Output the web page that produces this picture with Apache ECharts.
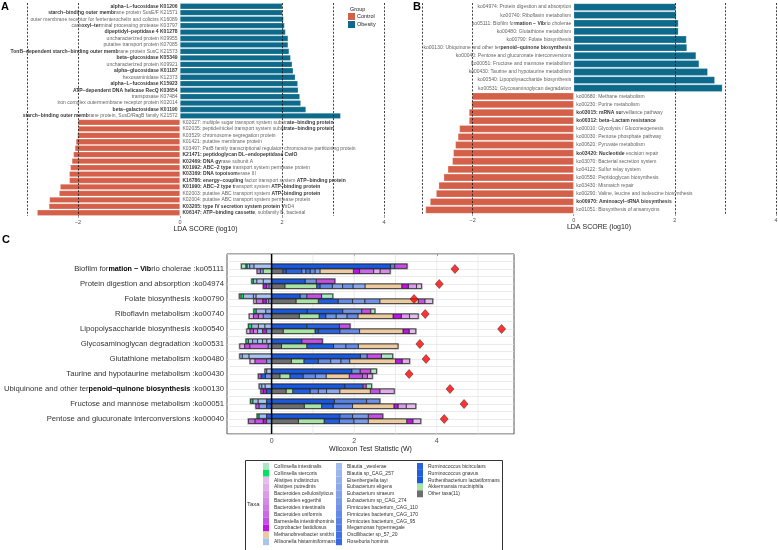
<!DOCTYPE html>
<html><head><meta charset="utf-8">
<script src="https://cdn.jsdelivr.net/npm/echarts@6/dist/echarts.min.js"></script>
<style>html,body{margin:0;padding:0;background:#fff}#c{width:778px;height:550px}</style>
</head><body><div id="c"></div>
<script>
// ---------- Panel A data (LDA, KO genes) ----------
const aObesityLabels = [
 "**alpha−L−fucosidase K01206**",
 "**starch−binding outer membr**ane protein SusE/F K21571",
 "outer membrane receptor for ferrienterochelin and colicins K16089",
 "carb**oxyl−ter**minal processing protease K03797",
 "**dipeptidyl−peptidase 4 K01278**",
 "uncharacterized protein K09955",
 "putative transport protein K07085",
 "**TonB−dependent starch−binding outer memb**rane protein SusC K21573",
 "**beta−glucosidase K05349**",
 "uncharacterized protein K09921",
 "**alpha−glucosidase K01187**",
 "hexosaminidase K12373",
 "**alpha−L−fucosidase K15923**",
 "**ATP−dependent DNA helicase RecQ K03654**",
 "transposase K07484",
 "iron complex outermembrane receptor protein K02014",
 "**beta−galactosidase K01190**",
 "**starch−binding outer memb**rane protein, SusD/RagB family K21572"
];
const aObesityScores = [2.01,2.01,2.03,2.05,2.07,2.12,2.12,2.14,2.17,2.20,2.22,2.26,2.31,2.32,2.35,2.37,2.47,3.15];
const aControlLabels = [
 "K02027: multiple sugar transport system substr**ate−binding protein**",
 "K02035: peptide/nickel transport system sub**strate−binding protein**",
 "K03529: chromosome segregation protein",
 "K01421: putative membrane protein",
 "K03497: ParB family transcriptional regulator, chromosome partitioning protein",
 "**K21471: peptidoglycan DL−endopeptidase CwlO**",
 "**K02469: DNA gy**rase subunit A",
 "**K01992: ABC−2 type** transport system permease protein",
 "**K03169: DNA topoisom**erase III",
 "**K16786: energy−coupling** factor transport system **ATP−binding protein**",
 "**K01990: ABC−2 type t**ransport system **ATP−binding protein**",
 "K02003: putative ABC transport system **ATP−binding protein**",
 "K02004: putative ABC transport system permease protein",
 "**K03205: type IV secretion system protein V**irD4",
 "**K06147: ATP−binding cassette**, subfamily B, bacterial"
];
const aControlScores = [-2.00,-2.00,-2.01,-2.04,-2.06,-2.09,-2.12,-2.15,-2.17,-2.17,-2.35,-2.37,-2.56,-2.57,-2.80];

// ---------- Panel B data (LDA, KEGG pathways) ----------
const bObesityLabels = [
 "ko04974: Protein digestion and absorption",
 "ko00740: Riboflavin metabolism",
 "ko05111: Biofilm for**mation − Vib**rio cholerae",
 "ko00480: Glutathione metabolism",
 "ko00790: Folate biosynthesis",
 "ko00130: Ubiquinone and other ter**penoid−quinone biosynthesis**",
 "ko00040: Pentose and glucuronate interconversions",
 "ko00051: Fructose and mannose metabolism",
 "ko00430: Taurine and hypotaurine metabolism",
 "ko00540: Lipopolysaccharide biosynthesis",
 "ko00531: Glycosaminoglycan degradation"
];
const bObesityScores = [2.02,2.03,2.07,2.07,2.23,2.24,2.42,2.48,2.65,2.79,2.94];
const bControlLabels = [
 "ko00680: Methane metabolism",
 "ko00230: Purine metabolism",
 "**ko03015: mRNA su**rveillance pathway",
 "**ko00312: beta−Lactam resistance**",
 "ko00010: Glycolysis / Gluconeogenesis",
 "ko00030: Pentose phosphate pathway",
 "ko00620: Pyruvate metabolism",
 "**ko03420: Nucleotide** excision repair",
 "ko03070: Bacterial secretion system",
 "ko04122: Sulfur relay system",
 "ko00550: Peptidoglycan biosynthesis",
 "ko03430: Mismatch repair",
 "ko00290: Valine, leucine and isoleucine biosynthesis",
 "**ko00970: Aminoacyl−tRNA biosynthesis**",
 "ko01051: Biosynthesis of ansamycins"
];
const bControlScores = [-2.01,-2.02,-2.07,-2.07,-2.26,-2.29,-2.34,-2.38,-2.40,-2.49,-2.57,-2.67,-2.72,-2.84,-2.93];

const ldaTicks = [-2,0,2,4];
const ldaRefLines = [-3,-2,2,3,4];

// ---------- Panel C data (taxa contributions) ----------
const cPathways = [
 "Biofilm for**mation − Vib**rio cholerae :ko05111",
 "Protein digestion and absorption :ko04974",
 "Folate biosynthesis :ko00790",
 "Riboflavin metabolism :ko00740",
 "Lipopolysaccharide biosynthesis :ko00540",
 "Glycosaminoglycan degradation :ko00531",
 "Glutathione metabolism :ko00480",
 "Taurine and hypotaurine metabolism :ko00430",
 "Ubiquinone and other ter**penoid−quinone biosynthesis** :ko00130",
 "Fructose and mannose metabolism :ko00051",
 "Pentose and glucuronate interconversions :ko00040"
];
const cWilcoxon = [4.44,4.06,3.45,3.72,5.57,3.59,3.74,3.33,4.32,4.66,4.18];
const wTicks = [0,2,4];
const wGridLines = [1,2,3,4,5];

const taxaNames = [
 "Collinsella intestinalis","Collinsella stercoris","Alistipes indistinctus","Alistipes putredinis",
 "Bacteroides cellulosilyticus","Bacteroides eggerthii","Bacteroides intestinalis","Bacteroides uniformis",
 "Barnesiella intestinihominis","Coprobacter fastidiosus","Methanobrevibacter smithii","Allisonella histaminiformans",
 "Blautia _wexlerae","Blautia sp_CAG_257","Eisenbergiella tayi","Eubacterium eligens",
 "Eubacterium siraeum","Eubacterium sp_CAG_274","Firmicutes bacterium_CAG_110","Firmicutes bacterium_CAG_170",
 "Firmicutes bacterium_CAG_95","Megamonas hypermegale","Oscillibacter sp_57_20","Roseburia hominis",
 "Ruminococcus bicirculans","Ruminococcus gnavus","Ruthenibacterium lactatiformans","Akkermansia muciniphila",
 "Other taxa(11)"
];
// start value and [taxon index, width] segments, upper bar per pathway
const cUpperStart = [-0.73,-0.48,-0.78,-0.43,-0.56,-0.62,-0.77,-0.16,-0.30,-0.51,-0.35];
const cUpperSegs = [
 [[0,.11],[1,.03],[12,.06],[14,.10],[11,.43],[26,2.88],[20,.10],[8,.30]],
 [[1,.04],[13,.08],[11,.16],[12,.20],[26,.81],[18,.27],[8,.45]],
 [[0,.04],[1,.06],[12,.24],[14,.06],[11,.38],[26,.69],[18,.16],[8,.36],[0,.27]],
 [[1,.06],[12,.23],[15,.14],[26,.86],[24,.86],[18,.46],[8,.22],[0,.10]],
 [[1,.08],[13,.16],[11,.16],[12,.16],[26,.85],[24,.79],[8,.26]],
 [[1,.06],[12,.10],[14,.12],[11,.12],[13,.10],[12,.12],[26,.73],[8,.50]],
 [[14,.06],[12,.16],[11,.55],[26,2.15],[18,.16],[8,.35],[0,.27]],
 [[14,.04],[11,.12],[26,1.94],[18,.20],[8,.26],[0,.14]],
 [[14,.06],[12,.08],[11,.16],[26,1.77],[24,.44],[8,.08],[0,.13]],
 [[1,.06],[12,.12],[11,.21],[25,.12],[26,1.52],[20,.78],[18,.32]],
 [[1,.05],[12,.18],[25,.12],[26,1.65],[20,.31],[17,.38],[8,.35]]
];
// lower bar per pathway
const cLowerStart = [-0.35,-0.20,-0.43,-0.54,-0.60,-0.77,-0.52,-0.32,-0.26,-0.38,-0.56];
const cLowerSegs = [
 [[6,.08],[17,.07],[27,.20],[28,.27],[25,.08],[24,.38],[18,.10],[22,.10],[19,.12],[16,.12],[10,.81],[9,.15],[7,.34],[3,.16],[5,.24]],
 [[9,.08],[6,.06],[17,.06],[28,.32],[27,.77],[24,.08],[19,.30],[16,.25],[18,.25],[15,.29],[10,.89],[9,.16],[4,.20],[2,.12]],
 [[2,.06],[7,.16],[9,.08],[6,.06],[17,.07],[28,.59],[27,.54],[25,.48],[19,.35],[17,.30],[18,.36],[10,.93],[8,.16],[2,.19]],
 [[2,.10],[8,.12],[6,.12],[17,.20],[28,.67],[27,.48],[25,.16],[18,.25],[16,.27],[19,.26],[10,.85],[9,.20],[4,.20],[2,.21]],
 [[2,.08],[8,.08],[6,.10],[12,.12],[9,.10],[17,.12],[28,.28],[27,.77],[25,.08],[24,.52],[19,.48],[10,1.05],[9,.15],[2,.16]],
 [[3,.12],[8,.12],[7,.45],[17,.08],[28,.24],[27,.61],[25,.65],[18,.30],[19,.30],[10,.96]],
 [[2,.12],[8,.28],[17,.12],[28,.48],[27,.30],[25,.35],[19,.30],[16,.25],[18,.21],[10,1.11],[9,.16],[3,.18]],
 [[8,.07],[25,.10],[18,.15],[28,.20],[27,.24],[25,.32],[19,.30],[17,.26],[10,.56],[8,.32],[7,.12],[3,.12]],
 [[8,.06],[9,.08],[25,.12],[28,.35],[27,.16],[25,.42],[19,.20],[17,.20],[15,.32],[10,.74],[8,.23],[3,.35]],
 [[8,.08],[16,.18],[25,.12],[28,.79],[27,.42],[25,.28],[19,.47],[10,1.00],[9,.10],[4,.20],[2,.23]],
 [[7,.16],[8,.20],[9,.08],[17,.12],[28,.65],[27,.62],[25,.37],[19,.35],[17,.35],[10,.93],[9,.15],[2,.19]]
];

// ---------- styles ----------
const taxaColors = [
 "#a8e8c4","#00e35f","#e6bcee","#e0acec","#da9cea","#d58ce8","#d07ce6","#cb68e4",
 "#c54ee4","#bf12e6","#eccba0","#aac4f0","#a3bdef","#9bb6ee","#93afec","#8ba8eb",
 "#83a1ea","#7b9ae8","#7092e7","#658ae6","#5982e5","#4d7ae4","#4172e3","#356ae2",
 "#2963e1","#205ee0","#1959df","#a8e2a4","#6e6e6e"
];
const COL_CTRL = "#d4604a", COL_OB = "#0d6a8b";
const FONT = '"Liberation Sans", Arial, Helvetica, sans-serif';

function rich(s){
  const parts = s.split('**'); let out = '';
  parts.forEach((p,i)=>{ if(p) out += '{' + (i%2 ? 'b' : 'n') + '|' + p + '}'; });
  return out;
}
const minus = v => String(v).replace('-', '−');

function ldaPanel(gi, obLabels, obScores, ctLabels, ctScores){
  const n1 = obLabels.length, n2 = ctLabels.length;
  const cats = [...Array(n1+n2).keys()].map(String);
  const obData = obScores.concat(Array(n2).fill('-'));
  const ctData = Array(n1).fill('-').concat(ctScores);
  const labelData = obLabels.map((l,i)=>({value:[0,i], name:l, label:{position:'left'}}))
    .concat(ctLabels.map((l,i)=>({value:[0,n1+i], name:l, label:{position:'right'}})));
  const base = {xAxisIndex:gi, yAxisIndex:gi};
  return {cats, series:[
    Object.assign({type:'bar', name:'Obesity', data:obData, barCategoryGap:'10%', barGap:'-100%',
      itemStyle:{color:COL_OB, borderColor:'rgba(255,255,255,0.45)', borderWidth:0.5},
      emphasis:{disabled:true}, silent:true}, base),
    Object.assign({type:'bar', name:'Control', data:ctData, barCategoryGap:'10%', barGap:'-100%',
      itemStyle:{color:COL_CTRL, borderColor:'rgba(255,255,255,0.45)', borderWidth:0.5},
      emphasis:{disabled:true}, silent:true}, base),
    Object.assign({type:'scatter', name:'lbl'+gi, data:labelData, symbolSize:1, z:5, silent:true,
      itemStyle:{color:'rgba(0,0,0,0)'},
      label:{show:true, distance:2, fontSize:5, lineHeight:6, formatter:p=>rich(p.name),
        rich:{n:{fontSize:5, color:'#3a3a3a', fontFamily:FONT}, b:{fontSize:5, fontWeight:'bold', color:'#000', fontFamily:FONT}}},
      markLine:{silent:true, symbol:'none', label:{show:false},
        lineStyle:{color:'#111', type:[2,1.6], width:0.8},
        data: ldaRefLines.map(v=>({xAxis:v}))}}, base)
  ]};
}
const pA = ldaPanel(0, aObesityLabels, aObesityScores, aControlLabels, aControlScores);
const pB = ldaPanel(1, bObesityLabels, bObesityScores, bControlLabels, bControlScores);

function ldaX(gi){
  return {gridIndex:gi, type:'value', min:-3, max:4,
    axisLine:{show:false}, splitLine:{show:false},
    axisTick:{show:true, length:2, customValues:ldaTicks, lineStyle:{color:'#444', width:0.5}},
    axisLabel:{customValues:ldaTicks, fontSize:5.5, color:'#4d4d4d', margin:3, formatter:minus},
    name:'LDA SCORE (log10)', nameLocation:'middle', nameGap:9,
    nameTextStyle:{fontSize:7, color:'#222'}};
}
function ldaY(gi, cats){
  return {gridIndex:gi, type:'category', inverse:true, data:cats,
    axisLine:{show:false}, axisTick:{show:false}, axisLabel:{show:false}, splitLine:{show:false}};
}

// ---------- Panel C segments ----------
const segs = [], outlines = [];
cPathways.forEach((p,r)=>{
  [[cUpperStart,cUpperSegs],[cLowerStart,cLowerSegs]].forEach(([st,sg],b)=>{
    let x = st[r];
    sg[r].forEach(([t,w])=>{ segs.push([x, x+w, r+1, b, t]); x += w; });
    outlines.push([st[r], x, r+1, b]);
  });
});
function barRect(api){
  const b = api.value(3);
  const off = b === 0 ? [-0.33, -0.04] : [0.0, 0.30];
  const row = api.value(2);
  const p0 = api.coord([api.value(0), row + off[0]]);
  const p1 = api.coord([api.value(1), row + off[1]]);
  return {x:p0[0], y:Math.min(p0[1],p1[1]), width:p1[0]-p0[0], height:Math.abs(p1[1]-p0[1])};
}
const taxaSeries = taxaNames.map((name,t)=>({
  type:'custom', name, xAxisIndex:2, yAxisIndex:2, z:4, clip:true, silent:true,
  itemStyle:{color:taxaColors[t]},
  encode:{x:[0,1], y:2},
  data: segs.filter(s=>s[4]===t),
  renderItem:(params, api)=>({type:'rect', shape:barRect(api),
    style:{fill:taxaColors[t], stroke:'#1e1e1e', lineWidth:0.7}})
}));

const option = {
  animation:false,
  textStyle:{fontFamily:FONT},
  grid:[
    {left:27, top:3, width:357, height:213, outerBoundsMode:'none', containLabel:false},
    {left:422, top:3, width:354, height:211, outerBoundsMode:'none', containLabel:false},
    {left:227, top:254, width:287, height:180, outerBoundsMode:'none', containLabel:false,
     show:true, borderColor:'#555', borderWidth:1, backgroundColor:'#fff'}
  ],
  xAxis:[ldaX(0), ldaX(1),
    {gridIndex:2, type:'value', min:-1.08, max:5.87, interval:0.01,
     axisLine:{show:false}, splitLine:{show:false},
     axisTick:{show:true, length:2, customValues:wTicks, lineStyle:{color:'#444', width:0.6}},
     axisLabel:{customValues:wTicks, fontSize:7, color:'#4d4d4d', margin:4},
     name:'Wilcoxon Test Statistic (W)', nameLocation:'middle', nameGap:11,
     nameTextStyle:{fontSize:7, color:'#222'}}],
  yAxis:[ldaY(0, pA.cats), ldaY(1, pB.cats),
    {gridIndex:2, type:'value', inverse:true, min:0, max:12, interval:0.5,
     axisLine:{show:false}, axisTick:{show:false},
     splitLine:{show:true, lineStyle:{color:'#e2e2e2', width:0.7}},
     axisLabel:{margin:3, fontSize:7.7, color:'#333',
       formatter:v=> (Number.isInteger(v) && v>=1 && v<=cPathways.length) ? rich(cPathways[v-1]) : '',
       rich:{n:{fontSize:7.7, color:'#333', fontFamily:FONT}, b:{fontSize:7.2, fontWeight:'bold', color:'#000', fontFamily:FONT}}}}],
  legend:[
    {data:['Control','Obesity'], left:348, top:13, orient:'vertical', padding:0,
     itemWidth:7, itemHeight:7, itemGap:1, icon:'rect', selectedMode:false,
     itemStyle:{borderWidth:0}, textStyle:{fontSize:5.5, color:'#222', padding:[0,0,0,-3]}},
    {data:taxaNames.slice(0,12), left:263, top:463, orient:'vertical', padding:0, selectedMode:false,
     itemWidth:6, itemHeight:6.85, itemGap:0, icon:'rect', itemStyle:{borderWidth:0},
     textStyle:{fontSize:5, color:'#333', lineHeight:6}},
    {data:taxaNames.slice(12,24), left:336, top:463, orient:'vertical', padding:0, selectedMode:false,
     itemWidth:6, itemHeight:6.85, itemGap:0, icon:'rect', itemStyle:{borderWidth:0},
     textStyle:{fontSize:5, color:'#333', lineHeight:6}},
    {data:taxaNames.slice(24), left:417, top:463, orient:'vertical', padding:0, selectedMode:false,
     itemWidth:6, itemHeight:6.85, itemGap:0, icon:'rect', itemStyle:{borderWidth:0},
     textStyle:{fontSize:5, color:'#333', lineHeight:6}}
  ],
  graphic:[
    {type:'text', left:1, top:1, style:{text:'A', font:'bold 11px '+FONT, fill:'#000'}},
    {type:'text', left:413, top:1, style:{text:'B', font:'bold 11px '+FONT, fill:'#000'}},
    {type:'text', left:2, top:234, style:{text:'C', font:'bold 11px '+FONT, fill:'#000'}},
    {type:'text', left:350, top:6, style:{text:'Group', font:'5.5px '+FONT, fill:'#222'}},
    {type:'rect', left:243, top:458, shape:{width:257, height:90}, style:{fill:'none', stroke:'#333', lineWidth:1}},
    {type:'text', left:247, top:501, style:{text:'Taxa', font:'6px '+FONT, fill:'#333'}}
  ],
  series:[
    ...pA.series, ...pB.series,
    {type:'custom', name:'vgrid', xAxisIndex:2, yAxisIndex:2, z:1, silent:true, data:wGridLines,
     encode:{x:0},
     renderItem:(params, api)=>{ const a = api.coord([api.value(0),0]), b = api.coord([api.value(0),12]);
       return {type:'line', shape:{x1:a[0], y1:a[1], x2:b[0], y2:b[1]}, style:{stroke:'#e2e2e2', lineWidth:0.7}}; }},
    {type:'custom', name:'outline', xAxisIndex:2, yAxisIndex:2, z:3, clip:true, silent:true, data:outlines,
     encode:{x:[0,1], y:2},
     renderItem:(params, api)=>({type:'rect', shape:barRect(api), style:{fill:'none', stroke:'rgba(60,60,60,0.45)', lineWidth:2.2}})},
    ...taxaSeries,
    {type:'custom', name:'zero', xAxisIndex:2, yAxisIndex:2, z:6, silent:true, data:[0],
     encode:{x:0},
     renderItem:(params, api)=>{ const a = api.coord([api.value(0),0]), b = api.coord([api.value(0),12]);
       return {type:'line', shape:{x1:a[0], y1:a[1], x2:b[0], y2:b[1]}, style:{stroke:'#000', lineWidth:1.5}}; }},
    {type:'scatter', name:'W', xAxisIndex:2, yAxisIndex:2, z:7, silent:true,
     data:cWilcoxon.map((w,i)=>[w,i+1]), symbol:'diamond', symbolSize:[8,9],
     itemStyle:{color:'#ff0000', borderColor:'#222', borderWidth:0.6}}
  ]
};
const chart = echarts.init(document.getElementById('c'), null, {renderer:'canvas'});
chart.setOption(option);
</script></body></html>
